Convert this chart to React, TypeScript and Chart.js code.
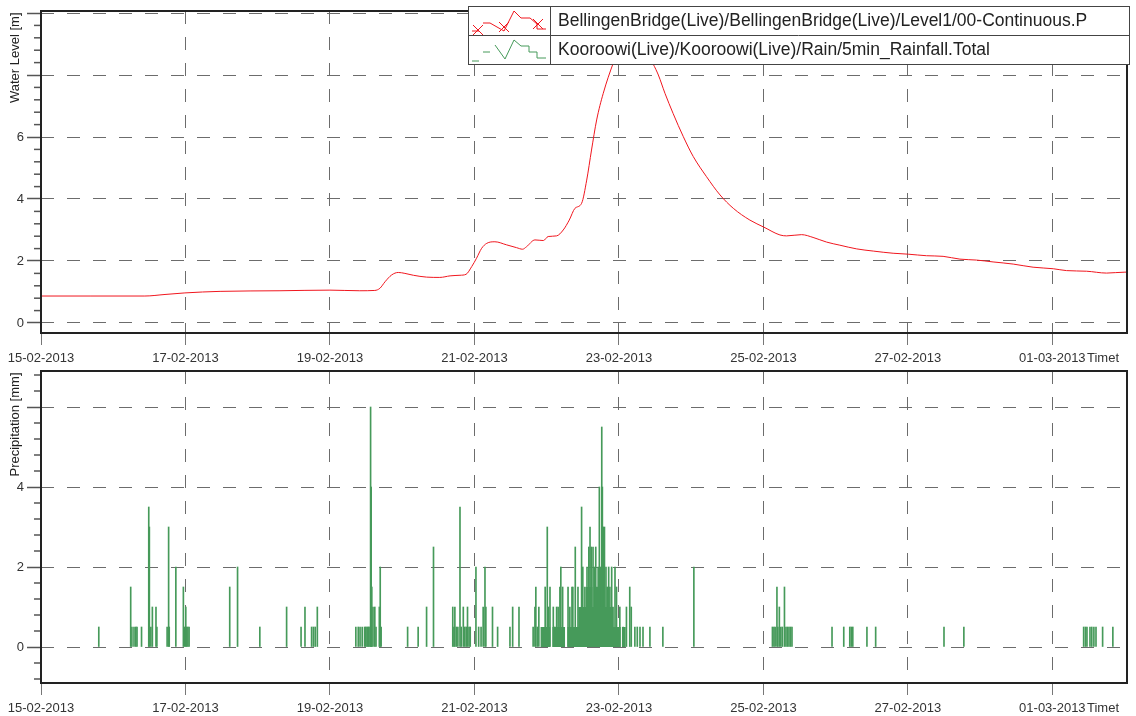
import React, { useEffect, useRef } from 'react';
import { Chart, registerables } from 'chart.js';

Chart.register(...registerables);

// ---------------- data ----------------
// time axis: hours since 15-02-2013 00:00
const BASE_DATE_UTC = Date.UTC(2013, 1, 15);
const X_MAX_HOURS = 360.8;
const X_TICK_STEP_HOURS = 48;

const levelHours = [0, 16.3, 34.5, 41.2, 47.8, 59.5, 79.4, 96.0, 105.9, 110.9, 112.6, 114.3, 116.5, 118.7, 120.9, 123.7, 128.1, 132.5, 135.9, 139.2, 141.2, 143.1, 144.7, 146.4, 148.1, 150.8, 154.7, 158.0, 160.0, 161.3, 164.1, 166.9, 168.5, 171.3, 173.5, 175.5, 177.4, 179.6, 181.3, 182.9, 184.6, 186.8, 190.1, 193.0, 196.3, 199.6, 203.4, 205.1, 207.3, 210.0, 213.4, 216.7, 221.1, 225.6, 230.0, 235.5, 240.2, 245.5, 247.7, 252.7, 256.5, 261.0, 265.4, 271.0, 276.5, 283.1, 288.1, 294.2, 299.7, 305.3, 310.8, 316.3, 323.0, 329.6, 336.3, 340.7, 347.4, 354.0, 360.1, 360.8];
const levelMetres = [0.87, 0.87, 0.87, 0.92, 0.97, 1.02, 1.04, 1.06, 1.04, 1.05, 1.12, 1.33, 1.55, 1.63, 1.60, 1.54, 1.48, 1.47, 1.52, 1.54, 1.57, 1.82, 2.09, 2.41, 2.57, 2.62, 2.52, 2.43, 2.38, 2.46, 2.68, 2.66, 2.79, 2.81, 3.0, 3.32, 3.70, 3.86, 4.61, 5.58, 6.55, 7.41, 8.38, 9.05, 9.3, 9.0, 8.35, 8.0, 7.41, 6.76, 6.01, 5.37, 4.72, 4.13, 3.70, 3.32, 3.09, 2.84, 2.81, 2.85, 2.76, 2.61, 2.51, 2.39, 2.32, 2.25, 2.22, 2.17, 2.15, 2.06, 2.03, 1.97, 1.90, 1.80, 1.75, 1.69, 1.67, 1.61, 1.64, 1.64];

// individual 5-minute rainfall totals
const rainHours = [19.2, 29.8, 30.2, 30.9, 31.5, 31.9, 33.4, 35.8, 36.0, 36.5, 37.0, 38.2, 38.5, 41.9, 42.4, 42.6, 44.8, 47.3, 47.7, 48.1, 48.4, 48.8, 49.2, 62.7, 65.3, 72.7, 81.6, 86.4, 87.7, 89.9, 90.5, 91.1, 91.8, 104.6, 105.4, 106.0, 106.7, 107.5, 107.9, 108.3, 108.6, 108.9, 109.3, 109.5, 109.7, 109.9, 110.3, 110.9, 111.3, 112.4, 112.7, 113.0, 121.8, 125.3, 128.1, 130.4, 136.8, 137.2, 137.5, 138.0, 138.5, 139.2, 139.6, 140.3, 140.8, 141.3, 141.7, 142.2, 142.6, 144.5, 145.4, 146.2, 146.9, 147.5, 147.8, 150.0, 151.7, 155.8, 156.7, 158.8, 163.5, 164.1, 164.4, 164.9, 165.4, 167.5, 168.2, 168.6, 169.1, 170.2, 170.7, 171.3, 171.8, 172.4, 172.7, 173.3, 175.1, 175.7, 176.4, 176.7, 177.5, 178.4, 179.6, 180.0, 180.7, 181.4, 182.0, 182.4, 182.8, 183.4, 183.8, 184.3, 184.7, 185.1, 185.5, 185.8, 186.3, 186.5, 186.8, 187.2, 187.7, 188.1, 188.6, 189.0, 189.6, 190.0, 190.7, 191.2, 192.3, 193.4, 194.5, 195.6, 196.1, 197.3, 198.1, 199.0, 200.0, 202.3, 206.6, 216.9, 243.0, 243.5, 243.9, 244.5, 244.8, 245.3, 245.8, 246.3, 247.0, 247.5, 248.0, 248.5, 249.0, 249.5, 262.8, 266.7, 268.7, 269.2, 269.7, 274.4, 277.3, 300.0, 306.6, 346.4, 347.0, 347.5, 348.5, 349.1, 349.8, 350.5, 352.7, 356.1];
const rainMm = [0.5, 1.5, 0.5, 0.5, 0.5, 0.5, 0.5, 3.5, 3.0, 0.5, 1.0, 1.0, 0.5, 0.5, 3.0, 0.5, 2.0, 1.5, 0.5, 1.0, 0.5, 0.5, 0.5, 1.5, 2.0, 0.5, 1.0, 0.5, 1.0, 0.5, 0.5, 0.5, 1.0, 0.5, 0.5, 0.5, 0.5, 0.5, 0.5, 0.5, 0.5, 0.5, 0.5, 6.0, 4.0, 1.5, 1.0, 1.0, 0.5, 1.0, 2.0, 0.5, 0.5, 0.5, 1.0, 2.5, 1.0, 0.5, 1.0, 0.5, 0.5, 3.5, 0.5, 1.0, 0.5, 0.5, 1.0, 0.5, 0.5, 2.0, 0.5, 0.5, 1.0, 2.0, 1.0, 1.0, 0.5, 0.5, 1.0, 1.0, 0.5, 1.0, 1.5, 0.5, 1.0, 1.5, 3.0, 1.0, 1.5, 1.0, 0.5, 1.0, 1.0, 1.5, 2.0, 1.5, 1.5, 1.0, 1.5, 1.5, 2.5, 1.5, 3.5, 2.0, 1.5, 2.0, 2.5, 3.0, 2.5, 2.5, 2.0, 2.5, 1.5, 2.0, 4.0, 2.0, 5.5, 4.0, 3.0, 3.0, 2.0, 1.5, 2.0, 1.5, 2.0, 1.0, 2.0, 1.5, 1.0, 0.5, 1.0, 1.5, 1.0, 0.5, 0.5, 0.5, 0.5, 0.5, 0.5, 2.0, 0.5, 0.5, 0.5, 1.5, 0.5, 1.0, 0.5, 0.5, 1.5, 0.5, 0.5, 0.5, 0.5, 0.5, 0.5, 0.5, 0.5, 0.5, 0.5, 0.5, 0.5, 0.5, 0.5, 0.5, 0.5, 0.5, 0.5, 0.5, 0.5, 0.5, 0.5, 0.5];

// continuous rain core of 22-23 Feb (held values)
const rainCoreHours = [165.9, 169.2, 169.9, 174.1, 174.9, 178.5, 181.0, 183.2, 184.0, 186.0, 190.2, 192.6, 193.0, 194.3];
const rainCoreMm = [0.5, 0, 0.5, 0, 0.5, 1.0, 1.5, 1.0, 1.5, 1.0, 0.5, 0, 0.5, 0];

const levelLabelledTicks = [0, 2, 4, 6];
const rainLabelledTicks = [0, 2, 4];

const legendLabels = [
  'BellingenBridge(Live)/BellingenBridge(Live)/Level1/00-Continuous.P',
  'Kooroowi(Live)/Kooroowi(Live)/Rain/5min_Rainfall.Total',
];
const levelAxisTitle = 'Water Level [m]';
const rainAxisTitle = 'Precipitation [mm]';
const timeAxisTitle = 'Timet';

// ---------------- styling ----------------
const FONT = "'Liberation Sans', Arial, Helvetica, sans-serif";
const GREEN = 'rgb(70,154,90)';
const RED = 'rgb(240,22,30)';
const GRID = '#6c6c6c';
Chart.defaults.font.family = FONT;

function fmtDate(h: number) {
  const d = new Date(BASE_DATE_UTC + h * 3600000);
  const dd = String(d.getUTCDate()).padStart(2, '0');
  const mm = String(d.getUTCMonth() + 1).padStart(2, '0');
  return `${dd}-${mm}-${d.getUTCFullYear()}`;
}

function xScale() {
  return {
    type: 'linear',
    min: 0,
    max: X_MAX_HOURS,
    offset: false,
    ticks: {
      stepSize: X_TICK_STEP_HOURS,
      includeBounds: false,
      autoSkip: false,
      maxRotation: 0,
      minRotation: 0,
      padding: 6,
      color: '#333',
      font: { size: 13, family: FONT },
      callback: (v: number) => fmtDate(v),
    },
    grid: {
      offset: false,
      color: GRID,
      lineWidth: 1,
      tickLength: 12,
      tickColor: '#777',
      tickWidth: 1,
      tickBorderDash: [],
      borderDash: [13, 13],
    },
    border: { display: false, dash: [13, 13] },
    afterFit: (s: any) => { s.height = 33; },
  };
}

function yScale(min: number, max: number, labelled: number[]) {
  return {
    type: 'linear',
    min,
    max,
    ticks: {
      stepSize: 2,
      includeBounds: false,
      padding: 3,
      color: '#333',
      font: { size: 13, family: FONT },
      callback: (v: number) => (labelled.includes(v) ? String(v) : ''),
    },
    grid: {
      color: GRID,
      lineWidth: 1,
      tickLength: 14,
      tickColor: '#555',
      tickWidth: 1.5,
      tickBorderDash: [],
      borderDash: [13, 13],
    },
    border: { display: false, dash: [13, 13] },
    afterFit: (s: any) => { s.width = 41; },
  };
}

function polyline(ctx: CanvasRenderingContext2D, pts: number[][]) {
  ctx.beginPath();
  pts.forEach((p, i) => (i ? ctx.lineTo(p[0], p[1]) : ctx.moveTo(p[0], p[1])));
  ctx.stroke();
}

function cross(ctx: CanvasRenderingContext2D, x: number, y: number, r: number) {
  ctx.beginPath();
  ctx.moveTo(x - r, y - r); ctx.lineTo(x + r, y + r);
  ctx.moveTo(x + r, y - r); ctx.lineTo(x - r, y + r);
  ctx.stroke();
}

function drawLegend(ctx: CanvasRenderingContext2D) {
  const x0 = 468, x1 = 1129, y0 = 6, yMid = 35, y1 = 64, xDiv = 550;
  ctx.fillStyle = '#fff';
  ctx.fillRect(x0, y0, x1 - x0, y1 - y0);
  ctx.strokeStyle = '#444';
  ctx.lineWidth = 1;
  ctx.strokeRect(x0 + 0.5, y0 + 0.5, x1 - x0, y1 - y0);
  ctx.beginPath();
  ctx.moveTo(xDiv + 0.5, y0); ctx.lineTo(xDiv + 0.5, y1);
  ctx.moveTo(x0, yMid + 0.5); ctx.lineTo(x1, yMid + 0.5);
  ctx.stroke();

  // red sample
  ctx.strokeStyle = RED;
  ctx.lineWidth = 1;
  polyline(ctx, [[472, 31], [479, 31]]);
  polyline(ctx, [[483, 23], [490, 23], [504, 31], [514, 11], [521, 18], [530, 18], [537, 24], [537, 29], [546, 29]]);
  cross(ctx, 478, 30, 5);
  cross(ctx, 504, 27, 5);
  cross(ctx, 538, 24, 5);

  // green sample
  ctx.strokeStyle = GREEN;
  polyline(ctx, [[472, 61], [479, 61]]);
  polyline(ctx, [[483, 52], [490, 52]]);
  polyline(ctx, [[495, 45], [505, 59], [514, 40], [521, 46], [529, 46], [529, 52], [537, 52], [537, 58], [546, 58]]);

  ctx.fillStyle = '#222';
  ctx.font = `17.5px ${FONT}`;
  ctx.textAlign = 'left';
  ctx.textBaseline = 'middle';
  ctx.fillText(legendLabels[0], 558, 21);
  ctx.fillText(legendLabels[1], 558, 50);
}

const decorPlugin = {
  id: 'decor',
  afterDraw(chart: any, _args: any, opts: any) {
    const { ctx, chartArea: a, scales } = chart;
    const y = scales.y;
    ctx.save();
    // minor y ticks every 0.4
    ctx.strokeStyle = '#555';
    ctx.lineWidth = 1.5;
    const lo = Math.ceil(y.min / 0.4 - 1e-6);
    const hi = Math.floor(y.max / 0.4 + 1e-6);
    for (let i = lo; i <= hi; i++) {
      if (i % 5 === 0) continue;
      const py = y.getPixelForValue(i * 0.4);
      ctx.beginPath();
      ctx.moveTo(a.left - 7, py);
      ctx.lineTo(a.left, py);
      ctx.stroke();
    }
    // frame
    ctx.strokeStyle = '#222';
    ctx.lineWidth = 2;
    ctx.strokeRect(a.left, a.top, a.right - a.left, a.bottom - a.top);
    // time axis title
    ctx.fillStyle = '#333';
    ctx.font = `13px ${FONT}`;
    ctx.textAlign = 'left';
    ctx.textBaseline = 'middle';
    ctx.fillText(timeAxisTitle, 1087, a.bottom + 25);
    ctx.restore();

    // y title
    ctx.save();
    ctx.fillStyle = '#222';
    ctx.font = `13px ${FONT}`;
    ctx.translate(15, a.top + 1.5);
    ctx.rotate(-Math.PI / 2);
    ctx.textAlign = 'right';
    ctx.textBaseline = 'middle';
    ctx.fillText(opts.title, 0, 0);
    ctx.restore();

    if (opts.legend) {
      ctx.save();
      drawLegend(ctx);
      ctx.restore();
    }
  },
};

export default function App() {
  const topRef = useRef<HTMLCanvasElement>(null);
  const botRef = useRef<HTMLCanvasElement>(null);

  useEffect(() => {
    const levelData = levelHours.map((h, i) => ({ x: h, y: levelMetres[i] }));
    const rainData = rainHours.map((h, i) => ({ x: h, y: rainMm[i] }));
    const coreData = rainCoreHours.map((h, i) => ({ x: h, y: rainCoreMm[i] }));

    const top = new Chart(topRef.current as HTMLCanvasElement, {
      type: 'line',
      data: {
        datasets: [
          {
            label: legendLabels[0],
            data: levelData,
            borderColor: RED,
            borderWidth: 1,
            pointRadius: 0,
            cubicInterpolationMode: 'monotone',
            fill: false,
          },
        ],
      },
      options: {
        animation: false,
        responsive: false,
        devicePixelRatio: 1,
        layout: { padding: { top: 11, right: 9, left: 0, bottom: 0 } },
        scales: { x: xScale(), y: yScale(-0.323, 10.065, levelLabelledTicks) } as any,
        plugins: {
          legend: { display: false },
          tooltip: { enabled: false },
          decor: { title: levelAxisTitle, legend: true },
        } as any,
      },
      plugins: [decorPlugin],
    } as any);

    const bot = new Chart(botRef.current as HTMLCanvasElement, {
      type: 'line',
      data: {
        datasets: [
          {
            type: 'line',
            label: legendLabels[1] + ' core',
            data: coreData,
            stepped: true,
            borderWidth: 0,
            borderColor: GREEN,
            backgroundColor: GREEN,
            pointRadius: 0,
            fill: 'origin',
          },
          {
            type: 'bar',
            label: legendLabels[1],
            data: rainData,
            backgroundColor: GREEN,
            borderWidth: 0,
            barThickness: 1,
            grouped: false,
          },
        ],
      },
      options: {
        animation: false,
        responsive: false,
        devicePixelRatio: 1,
        layout: { padding: { top: 11, right: 9, left: 0, bottom: 0 } },
        scales: { x: xScale(), y: yScale(-0.9, 6.9, rainLabelledTicks) } as any,
        plugins: {
          legend: { display: false },
          tooltip: { enabled: false },
          decor: { title: rainAxisTitle, legend: false },
        } as any,
      },
      plugins: [decorPlugin],
    } as any);

    return () => {
      top.destroy();
      bot.destroy();
    };
  }, []);

  return (
    <div style={{ position: 'absolute', left: 0, top: 0, width: 1136, height: 716, background: '#fff' }}>
      <canvas
        ref={topRef}
        width={1136}
        height={366}
        style={{ position: 'absolute', left: 0, top: 0, width: 1136, height: 366 }}
      />
      <canvas
        ref={botRef}
        width={1136}
        height={356}
        style={{ position: 'absolute', left: 0, top: 360, width: 1136, height: 356 }}
      />
    </div>
  );
}
